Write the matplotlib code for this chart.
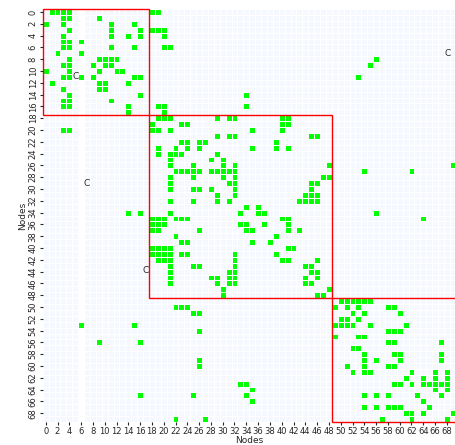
import numpy as np
import matplotlib
matplotlib.use("Agg")
import matplotlib.pyplot as plt
from matplotlib.colors import ListedColormap
from matplotlib.patches import Rectangle

n_nodes = 70

# for every row, the columns that are switched on
links = [
    [1, 2, 3, 4, 18, 19],
    [3, 4, 9],
    [0, 3, 11, 15],
    [4, 11, 16, 18, 19, 20],
    [3, 11, 14, 16, 20],
    [3, 4, 6],
    [3, 4, 11, 15, 20, 21],
    [2, 6],
    [4, 9, 10, 11, 12, 56],
    [3, 4, 8, 10, 11, 55],
    [0, 4, 9, 12, 13],
    [3, 4, 6, 8, 15, 16, 53],
    [1, 9, 10, 14],
    [3, 9, 10],
    [4, 16, 34],
    [3, 4, 11],
    [3, 4, 14, 19, 20, 34],
    [14, 20],
    [19, 20, 21, 29, 31, 32, 40, 41],
    [18, 23, 24, 40, 41],
    [3, 4, 18, 19, 21, 35, 40],
    [29, 31, 32, 45, 46],
    [23, 24, 26, 27, 39],
    [19, 22, 24, 26, 35, 39, 41],
    [19, 21, 22, 23, 29],
    [21, 28, 30],
    [21, 25, 30, 32, 48, 69],
    [22, 23, 24, 25, 26, 28, 29, 30, 31, 32, 54, 62],
    [21, 25, 30, 32, 47, 48],
    [21, 31, 32, 45, 46],
    [21, 25, 26, 28, 32, 45],
    [29, 32, 44, 45, 46],
    [21, 25, 29, 31, 43, 44, 45, 46],
    [34, 36],
    [14, 16, 21, 33, 36, 37, 56],
    [18, 19, 20, 22, 23, 24, 40, 41, 64],
    [18, 19, 20, 33, 34, 37, 41],
    [18, 19, 26, 34, 35, 41, 43],
    [22, 39],
    [23, 24, 35, 38],
    [18, 19, 20, 21, 41, 42],
    [18, 19, 20, 21, 23, 24, 32, 39],
    [19, 20, 21, 32, 40, 41, 46],
    [21, 25, 26, 32, 44, 45],
    [21, 31, 32, 45, 46],
    [21, 28, 29, 31, 32, 44, 46],
    [21, 29, 31, 32, 44, 45],
    [30, 48],
    [30, 46, 47],
    [50, 51, 52, 53, 54, 55],
    [22, 23, 24, 49, 51, 53, 58, 59],
    [25, 26, 52, 54, 60],
    [50, 51, 53],
    [6, 15, 49, 50, 51, 52, 55, 61],
    [26, 58, 59, 60],
    [49, 53, 54],
    [9, 16, 58, 59, 67],
    [52, 53],
    [54, 59, 60, 67],
    [26, 54, 56, 60, 67],
    [26, 51, 54, 58, 59],
    [52, 54, 55, 62, 66, 68],
    [61, 64, 66, 68],
    [33, 34, 59, 60, 62, 64, 65, 66, 67, 68],
    [35, 66, 68],
    [16, 25, 34, 54, 56, 58, 63, 67],
    [35, 64],
    [54, 56, 58, 59, 60, 65],
    [61, 62, 64, 69],
    [22, 27, 57, 62, 68],
]

block_sizes = [18, 31, 21]
blank_columns = [6]  # this column has no pale tint in the picture
stray_x = [5.5, 7.5, 17.5, 68.7]
stray_y = [11.4, 29.5, 44.4, 7.5]
stray_text = ["C", "C", "C", "C"]

# 0 = white, 1 = pale background, 2 = link
grid = np.ones((n_nodes, n_nodes))
grid[:, blank_columns] = 0
for row, cols in enumerate(links):
    grid[row, cols] = 2

cmap = ListedColormap(["#ffffff", "#f5f8ff", "#00ff00"])

W, H = 455, 445
fig = plt.figure(figsize=(W / 100, H / 100), dpi=100)
ax = fig.add_axes([42.75 / W, 1 - 422 / H, 413 / W, 413 / H])

ax.pcolormesh(np.arange(n_nodes + 1), np.arange(n_nodes + 1), grid, cmap=cmap,
              vmin=0, vmax=2, edgecolors="white", linewidth=0.45)
ax.set_xlim(0, n_nodes)
ax.set_ylim(n_nodes, 0)

# red boxes around the three blocks
start = 0
for size in block_sizes:
    ax.add_patch(Rectangle((start, start), size, size, fill=False,
                           edgecolor="red", linewidth=1.0, clip_on=False))
    start += size

for x, y, s in zip(stray_x, stray_y, stray_text):
    ax.text(x, y, s, fontsize=6.5, color="#262626", ha="center", va="center")

ticks = np.arange(0, n_nodes, 2)
ax.set_xticks(ticks + 0.5)
ax.set_xticklabels(ticks, fontsize=6, color="#262626")
ax.set_yticks(ticks + 0.5)
ax.set_yticklabels(ticks, fontsize=6, rotation=90, va="center", color="#262626")
ax.tick_params(length=2.2, width=0.8, pad=1.5, color="#262626")
for side in ax.spines.values():
    side.set_visible(False)

ax.set_xlabel("Nodes", fontsize=6.5, color="#262626", va="center")
ax.xaxis.set_label_coords(0.5, -18.3 / 413)
ax.set_ylabel("Nodes", fontsize=6.5, labelpad=1, color="#262626")

fig.savefig("out.png", dpi=100)
